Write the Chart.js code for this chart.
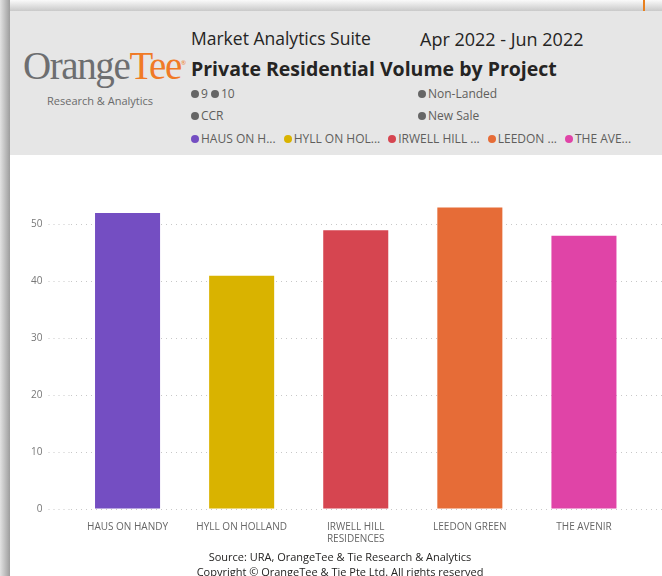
<!DOCTYPE html>
<html>
<head>
<meta charset="utf-8">
<script src="https://cdn.jsdelivr.net/npm/chart.js@4"></script>
<style>
  body { margin: 0; width: 662px; height: 576px; overflow: hidden; background: #fff; font-family: "Open Sans", sans-serif; position: relative; }
  .shadow-top { position: absolute; left: 0; top: 0; width: 662px; height: 11px; background: linear-gradient(#fafafa, #c9c9c9); }
  .shadow-left { position: absolute; left: 0; top: 0; width: 10px; height: 576px; background: linear-gradient(to right, #e2e2e2, #9d9d9d); }
  .orange-mark { position: absolute; left: 643px; top: 0; width: 2px; height: 11px; background: #e8801f; }
  .header { position: absolute; left: 10px; top: 11px; width: 652px; height: 144px; background: #e6e6e6; }
  .t { position: absolute; white-space: nowrap; color: #252423; }
  .logo { font-family: "Liberation Serif", serif; font-size: 39px; color: #6d6e70; letter-spacing: -1.4px; }
  .logo span { color: #f07a26; }
  .logo sup { font-size: 6px; color: #f07a26; font-family: "Open Sans"; letter-spacing: 0; }
  .sub { font-size: 11px; color: #6b6b6b; }
  .lg { font-size: 12px; color: #605e5c; }
  .dot { display: inline-block; width: 8px; height: 8px; border-radius: 50%; background: #666; margin-right: 2px; vertical-align: 0px; }
  .gap { display: inline-block; width: 8px; }
  .foot { font-size: 11px; color: #252423; text-align: center; width: 662px; }
  #wrap { position: absolute; left: 0; top: 160px; width: 662px; height: 416px; }
</style>
</head>
<body>
<div class="shadow-top"></div>
<div class="shadow-left"></div>
<div class="orange-mark"></div>
<div class="header"></div>

<div class="t logo" style="left:23px; top:43px;">Orange<span>Tee</span><sup>®</sup></div>
<div class="t sub" style="left:47px; top:93px;">Research &amp; Analytics</div>

<div class="t" style="left:191px; top:26px; font-size:17.5px; color:#252423;">Market Analytics Suite</div>
<div class="t" style="left:420px; top:27px; font-size:18px; color:#252423;">Apr 2022 - Jun 2022</div>
<div class="t" style="left:191px; top:55px; font-size:19.5px; font-weight:bold; color:#252423;">Private Residential Volume by Project</div>

<div class="t lg" style="left:191px; top:85px;"><span class="dot"></span>9 <span class="dot"></span>10</div>
<div class="t lg" style="left:418px; top:85px;"><span class="dot"></span>Non-Landed</div>
<div class="t lg" style="left:191px; top:107px;"><span class="dot"></span>CCR</div>
<div class="t lg" style="left:418px; top:107px;"><span class="dot"></span>New Sale</div>
<div class="t lg" id="legend" style="left:191px; top:130px;"></div>

<div id="wrap"><canvas id="chart"></canvas></div>

<div class="t foot" style="left:9px; top:549px;">Source: URA, OrangeTee &amp; Tie Research &amp; Analytics</div>
<div class="t foot" style="left:9px; top:564px;">Copyright © OrangeTee &amp; Tie Pte Ltd. All rights reserved</div>

<script>
// datos
const proyectos = ['HAUS ON HANDY', 'HYLL ON HOLLAND', 'IRWELL HILL RESIDENCES', 'LEEDON GREEN', 'THE AVENIR'];
const etiquetasEje = ['HAUS ON HANDY', 'HYLL ON HOLLAND', ['IRWELL HILL', 'RESIDENCES'], 'LEEDON GREEN', 'THE AVENIR'];
const etiquetasLeyenda = ['HAUS ON H...', 'HYLL ON HOL...', 'IRWELL HILL ...', 'LEEDON ...', 'THE AVE...'];
const volumen = [52, 41, 49, 53, 48];
const colores = ['#744EC2', '#D9B300', '#D64550', '#E66C37', '#E044A7'];

// leyenda de arriba
document.getElementById('legend').innerHTML = etiquetasLeyenda.map((t, i) =>
    `<span class="dot" style="background:${colores[i]}"></span>${t}`).join('<span class="gap"></span>');

// extender la cuadricula hasta el borde derecho
const extenderGrid = {
    id: 'extenderGrid',
    beforeDatasetsDraw(chart) {
        const { ctx, chartArea, scales } = chart;
        ctx.save();
        ctx.strokeStyle = '#c8c8c8';
        ctx.lineWidth = 1;
        ctx.setLineDash([1, 4]);
        scales.y.ticks.forEach(t => {
            const y = Math.round(scales.y.getPixelForValue(t.value)) + 0.5;
            ctx.beginPath();
            ctx.moveTo(chartArea.right, y);
            ctx.lineTo(chart.width, y);
            ctx.stroke();
        });
        ctx.restore();
    }
};

new Chart(document.getElementById('chart'), {
    type: 'bar',
    data: {
        labels: etiquetasEje,
        datasets: [{ label: 'Volume', data: volumen, backgroundColor: colores, categoryPercentage: 1, barPercentage: 0.57 }]
    },
    options: {
        responsive: true,
        maintainAspectRatio: false,
        animation: false,
        layout: { padding: { top: 36, right: 21, left: 0, bottom: 0 } },
        plugins: { legend: { display: false }, tooltip: { enabled: false } },
        scales: {
            x: {
                grid: { display: false, drawTicks: false },
                border: { display: false },
                ticks: { color: '#666', font: { family: 'Open Sans', size: 10 }, padding: 12, maxRotation: 0, autoSkip: false },
                afterFit(s) { s.height = 67; }
            },
            y: {
                min: 0, max: 55,
                border: { display: false, dash: [1, 4] },
                grid: { color: '#c8c8c8', tickLength: 22, tickBorderDash: [1, 4], tickColor: '#c8c8c8' },
                ticks: { stepSize: 10, color: '#777', font: { family: 'Open Sans', size: 10 }, padding: 6 },
                afterBuildTicks(s) { s.ticks = s.ticks.filter(t => t.value % 10 === 0); },
                afterFit(s) { s.width = 70.5; }
            }
        },
        elements: { bar: { borderWidth: 0 } }
    },
    plugins: [extenderGrid]
});
</script>
</body>
</html>
